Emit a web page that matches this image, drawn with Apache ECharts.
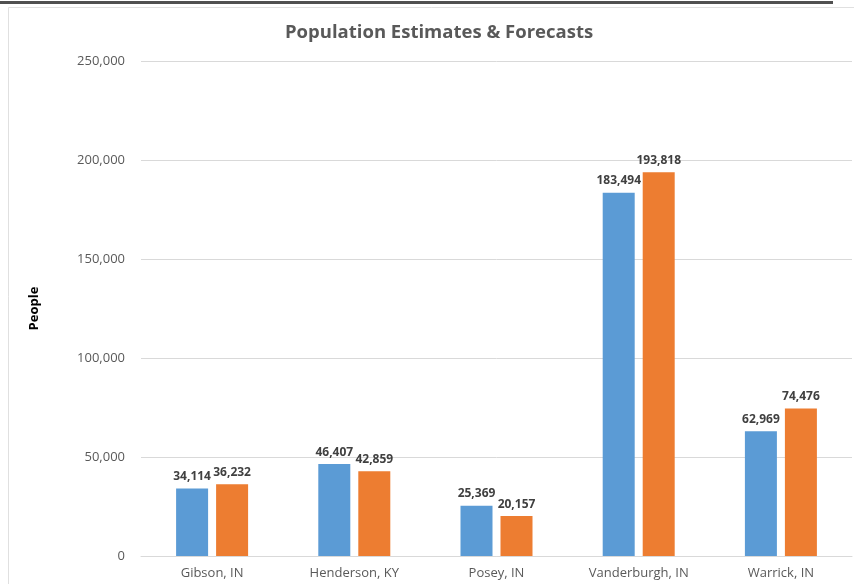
<!DOCTYPE html>
<html>
<head>
<meta charset="utf-8">
<script src="https://cdn.jsdelivr.net/npm/echarts@6/dist/echarts.min.js"></script>
<style>html,body{margin:0;padding:0;background:#fff;}#c{width:854px;height:584px;}</style>
</head>
<body>
<div id="c"></div>
<script>
const categories = ['Gibson, IN', 'Henderson, KY', 'Posey, IN', 'Vanderburgh, IN', 'Warrick, IN'];
const estimates = [34114, 46407, 25369, 183494, 62969];
const forecasts = [36232, 42859, 20157, 193818, 74476];
const yTicks = [0, 50000, 100000, 150000, 200000, 250000];

const chart = echarts.init(document.getElementById('c'), null, {renderer: 'canvas'});
const fmt = v => v.toLocaleString('en-US');
const labelStyle = {
  show: true, position: 'top', distance: 6,
  fontFamily: 'Open Sans', fontWeight: 'bold', fontSize: 12, color: '#404040',
  formatter: p => fmt(p.value)
};
chart.setOption({
  animation: false,
  backgroundColor: '#fff',
  graphic: [
    {type: 'rect', shape: {x: 0, y: 1, width: 833, height: 3}, style: {fill: '#505050'}, silent: true},
    {type: 'rect', shape: {x: 8.5, y: 7.5, width: 900, height: 700}, style: {fill: 'none', stroke: '#e0e0e0', lineWidth: 1}, silent: true}
  ],
  title: {
    text: 'Population Estimates & Forecasts',
    left: 280, top: 18,
    textStyle: {fontFamily: 'Open Sans', fontWeight: 'bold', fontSize: 18.5, color: '#595959'}
  },
  grid: {left: 141, right: 2, top: 61, bottom: 28, containLabel: false},
  xAxis: {
    type: 'category', data: categories,
    axisLine: {lineStyle: {color: '#d9d9d9'}},
    axisTick: {show: false},
    axisLabel: {fontFamily: 'Open Sans', fontSize: 13, color: '#595959', margin: 11}
  },
  yAxis: {
    type: 'value', min: yTicks[0], max: yTicks[yTicks.length - 1], interval: yTicks[1] - yTicks[0],
    name: 'People', nameLocation: 'middle', nameRotate: 90, nameGap: 100,
    nameTextStyle: {fontFamily: 'Open Sans', fontWeight: 'bold', fontSize: 13, color: '#000'},
    axisLine: {show: false}, axisTick: {show: false},
    splitLine: {lineStyle: {color: '#d9d9d9'}},
    axisLabel: {fontFamily: 'Open Sans', fontSize: 13, color: '#595959', margin: 16, formatter: v => fmt(v)}
  },
  series: [
    {name: 'Estimate', type: 'bar', data: estimates, barWidth: 32, barGap: '25%',
     itemStyle: {color: '#5B9BD5'}, label: labelStyle},
    {name: 'Forecast', type: 'bar', data: forecasts, barWidth: 32, barGap: '25%',
     itemStyle: {color: '#ED7D31'}, label: labelStyle}
  ]
});
</script>
</body>
</html>
